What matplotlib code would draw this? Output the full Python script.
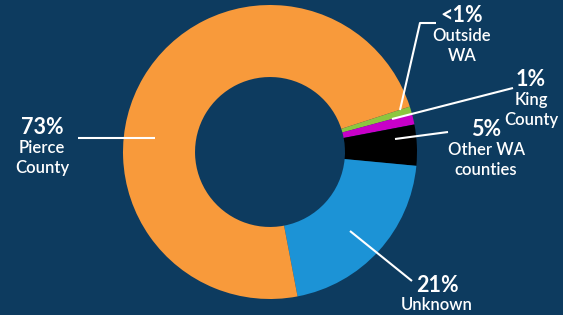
import numpy as np
import matplotlib.pyplot as plt

plt.rcParams['font.family'] = ['Lato', 'DejaVu Sans']

# data (clockwise from top-right)
categories = ['Outside WA', 'King County', 'Other WA counties', 'Unknown', 'Pierce County']
values = [0.8, 1.2, 4.5, 20.5, 73.0]
pct_labels = ['<1%', '1%', '5%', '21%', '73%']
name_labels = ['Outside\nWA', 'King\nCounty', 'Other WA\ncounties', 'Unknown', 'Pierce\nCounty']
colors = ['#8cc63f', '#c800c8', '#000000', '#1c93d6', '#f89a3b']

BG = '#0d3b5f'
W, H = 563, 315

fig = plt.figure(figsize=(W / 100, H / 100), dpi=100, facecolor=BG)
ax = fig.add_axes([0, 0, 1, 1])
ax.set_facecolor(BG)

def py(y):
    # pixel row -> data y
    return H - y

cx, cy, r_out = 270, py(152), 147
ax.pie(values, colors=colors, center=(cx, cy), radius=r_out, startangle=18,
       counterclock=False, wedgeprops=dict(width=r_out * 0.49, linewidth=0),
       frame=True)
ax.set_xlim(0, W)
ax.set_ylim(0, H)
ax.set_aspect('equal')
ax.axis('off')

# label layout: (pct x, pct y) in pixels, leader line points in pixels
label_pos = [(462, 16), (531, 80), (486, 130), (437, 285), (42, 128)]
leaders = [
    [(400, 110), (420, 23), (436, 23)],
    [(392, 119), (513, 88)],
    [(395, 139), (448, 132)],
    [(350, 231), (412, 281)],
    [(155, 138), (78, 138)],
]

for (lx, ly), pct, name, pts in zip(label_pos, pct_labels, name_labels, leaders):
    ax.text(lx, py(ly), pct, color='white', fontsize=15.5, fontweight='bold',
            ha='center', va='center')
    ax.text(lx, py(ly + 12), name, color='white', fontsize=12,
            fontweight='semibold', ha='center', va='top', linespacing=1.3)
    xs = [p[0] for p in pts]
    ys = [py(p[1]) for p in pts]
    ax.plot(xs, ys, color='white', lw=1.5, solid_capstyle='butt')

fig.savefig('out.png', dpi=100, facecolor=BG)
